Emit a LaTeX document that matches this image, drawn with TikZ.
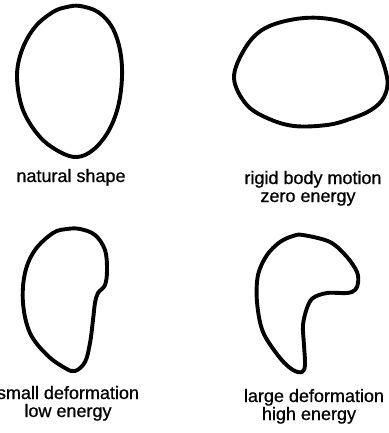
\documentclass[tikz,border=0pt]{standalone}
\usepackage{fontspec}
\setmainfont{Liberation Sans}
\newfontfamily\lblfont{Liberation Sans}[FakeBold=0.7]
\begin{document}
\begin{tikzpicture}[x=1pt,y=-1pt,
  outline/.style={line width=3.9pt,line join=round},
  lbl/.style={anchor=base,inner sep=0pt,font=\lblfont\fontsize{18}{18}\selectfont}]
\useasboundingbox (0,0) rectangle (388,433);
% natural shape
\draw[outline] plot[smooth cycle,tension=0.6] coordinates {
 (80,6) (98,12) (112,27) (120,50) (122,77) (118,107) (108,132) (93,150)
 (77,157) (60,152) (40,137) (23,110) (17,77) (22,50) (35,27) (53,12) (67,7)};
% rigid body motion
\draw[outline] plot[smooth cycle,tension=0.6] coordinates {
 (234,78) (244,50) (262,30) (290,20) (321,18) (351,25) (374,43) (387,77)
 (384,97) (371,110) (350,119) (327,125) (294,126) (267,118) (246,104)};
% small deformation
\draw[outline] plot[smooth cycle,tension=0.6] coordinates {
 (80,229) (95,235) (105,250) (107,270) (105,285) (98,293) (95,303) (93,320)
 (90,343) (85,362) (75,371) (65,368) (47,355) (30,333) (23,303) (25,273)
 (35,250) (53,233) (67,229)};
% large deformation
\draw[outline] plot[smooth cycle,tension=0.55] coordinates {
 (303,235) (330,242) (347,257) (357,272) (358,283) (355,290) (347,293)
 (327,293) (313,298) (307,308) (303,325) (304,345) (305,365) (302,372)
 (293,370) (280,358) (263,332) (257,302) (258,275) (267,255) (280,242) (293,236)};
\node[lbl] (natural) at (71,182) {natural shape};
\node[lbl] (rigid) at (313,184) {rigid body motion};
\node[lbl] (zero) at (308,202) {zero energy};
\node[lbl] (small) at (68,399) {small deformation};
\node[lbl] (low) at (68,417) {low energy};
\node[lbl] (large) at (314,402) {large deformation};
\node[lbl] (high) at (309,420) {high energy};
\end{tikzpicture}
\end{document}
